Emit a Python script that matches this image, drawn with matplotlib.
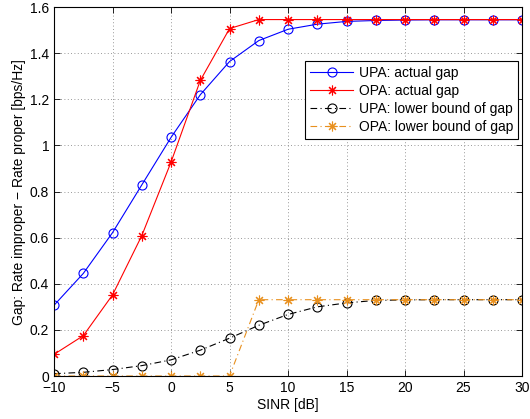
import matplotlib
matplotlib.use("Agg")
import matplotlib.pyplot as plt

# SINR points
sinr = [-10, -7.5, -5, -2.5, 0, 2.5, 5, 7.5, 10, 12.5, 15, 17.5, 20, 22.5, 25, 27.5, 30]

upa_actual = [0.307, 0.445, 0.622, 0.829, 1.035, 1.220, 1.364, 1.455, 1.504,
              1.526, 1.538, 1.542, 1.544, 1.545, 1.545, 1.545, 1.545]
opa_actual = [0.094, 0.175, 0.352, 0.609, 0.928, 1.282, 1.507, 1.546, 1.546,
              1.546, 1.546, 1.546, 1.546, 1.546, 1.546, 1.546, 1.546]
upa_lower = [0.010, 0.016, 0.028, 0.045, 0.070, 0.112, 0.164, 0.220, 0.267,
             0.300, 0.317, 0.328, 0.330, 0.331, 0.331, 0.331, 0.331]
opa_lower = [0, 0, 0, 0, 0, 0, 0, 0.331, 0.331,
             0.331, 0.331, 0.331, 0.331, 0.331, 0.331, 0.331, 0.331]

xticks = [-10, -5, 0, 5, 10, 15, 20, 25, 30]
xtick_labels = ["\u221210", "\u22125", "0", "5", "10", "15", "20", "25", "30"]
yticks = [0, 0.2, 0.4, 0.6, 0.8, 1.0, 1.2, 1.4, 1.6]
ytick_labels = ["0", "0.2", "0.4", "0.6", "0.8", "1", "1.2", "1.4", "1.6"]

plt.rcParams["font.family"] = ["Liberation Sans", "DejaVu Sans"]
plt.rcParams["font.size"] = 10

fig = plt.figure(figsize=(5.3, 4.19), dpi=100)
ax = fig.add_axes([0.102, 0.1026, 0.883, 0.8804])

orange = "#E8901E"
star = (8, 2, 0)  # asterisk like matlab '*'
ax.plot(sinr, upa_actual, color="blue", marker="o", mfc="none", ms=6.5, lw=0.8,
        mew=0.8, label="UPA: actual gap")
ax.plot(sinr, opa_actual, color="red", marker=star, ms=7, lw=0.8, mew=0.8,
        label="OPA: actual gap")
ax.plot(sinr, upa_lower, color="black", marker="o", mfc="none", ms=6.5, lw=0.8,
        mew=0.8, dashes=[6, 3, 1, 3], label="UPA: lower bound of gap")
ax.plot(sinr, opa_lower, color=orange, marker=star, ms=7, lw=0.8, mew=0.8,
        dashes=[6, 3, 1, 3], label="OPA: lower bound of gap")

ax.set_xlim(-10, 30)
ax.set_ylim(0, 1.6)
ax.set_xticks(xticks)
ax.set_xticklabels(xtick_labels)
ax.set_yticks(yticks)
ax.set_yticklabels(ytick_labels)
ax.tick_params(direction="in", top=True, right=True, length=4, width=0.6)
ax.grid(True, linestyle=(0, (1, 3)), color="#777777", linewidth=0.6)
for s in ax.spines.values():
    s.set_linewidth(0.8)

ax.set_xlabel("SINR [dB]", labelpad=2)
ax.set_ylabel("Gap: Rate improper \u2212 Rate proper [bps/Hz]", labelpad=3)

leg = ax.legend(loc="upper right", bbox_to_anchor=(0.991, 0.854), borderaxespad=0,
                fancybox=False, edgecolor="black", framealpha=1,
                handlelength=3.1, labelspacing=0.3, borderpad=0.35,
                handletextpad=0.4)
leg.get_frame().set_linewidth(0.8)

fig.savefig("out.png", dpi=100)
